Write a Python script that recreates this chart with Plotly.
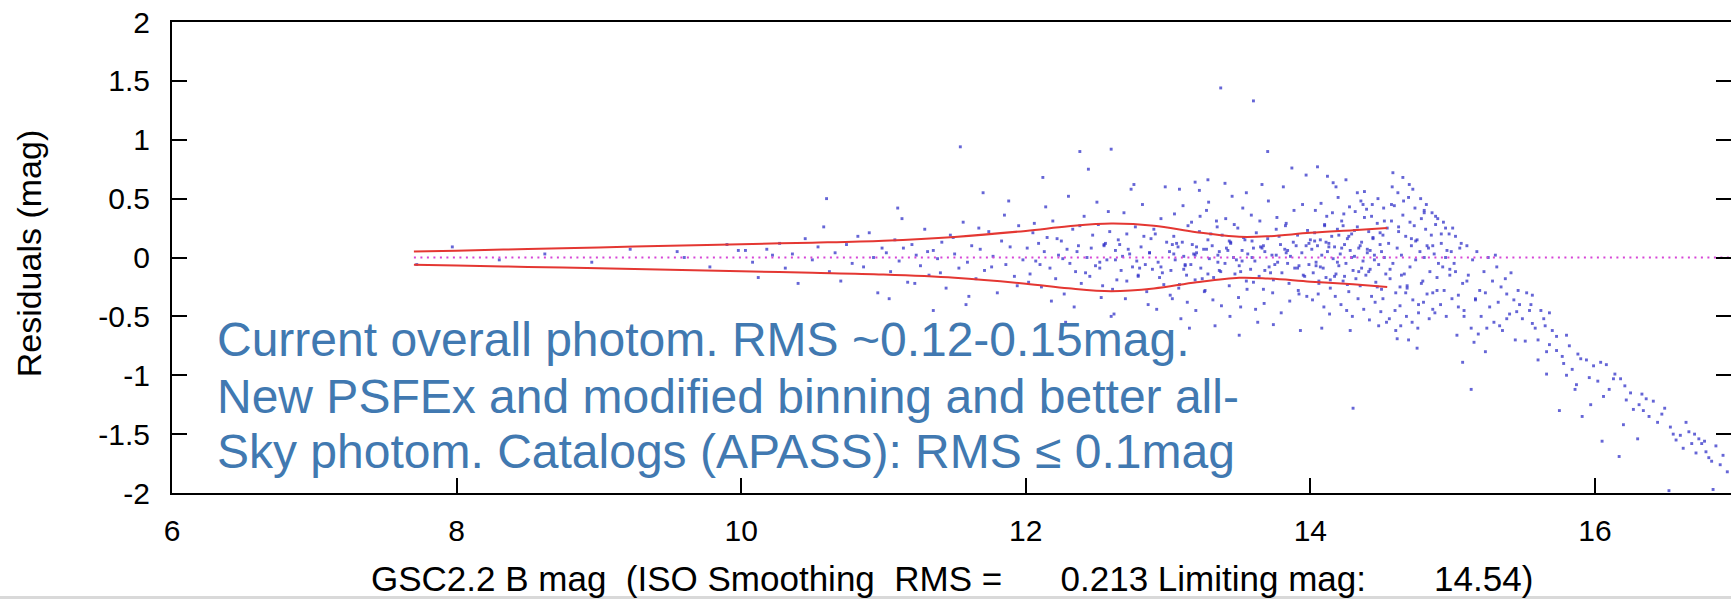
import plotly.graph_objects as go

# ---- star residuals: GSC2.2 B magnitude vs. photometric residual (mag) ----
mag_a = [7.72, 7.97, 8.3, 8.62, 8.95, 9.22, 9.55, 9.6, 9.78, 9.9, 9.98]
res_a = [-0.06, 0.09, -0.02, 0.03, -0.04, 0.07, 0.05, 0.0, -0.08, 0.11, 0.06]

mag_b = [10.03, 10.08, 10.12, 10.18, 10.22, 10.27, 10.31, 10.36, 10.4, 10.45, 10.5, 10.54, 10.58,
         10.62, 10.66, 10.7, 10.74, 10.78, 10.82, 10.86, 10.9, 10.93, 10.96, 10.99, 10.6]
res_b = [0.06, -0.04, -0.17, 0.07, 0.02, 0.12, -0.09, 0.03, -0.22, 0.16, -0.02, 0.09, 0.26,
         -0.12, 0.04, -0.2, 0.11, -0.05, 0.18, -0.08, 0.21, 0.0, -0.3, 0.08, 0.5]

mag_c = [11.02, 11.05, 11.08, 11.11, 11.14, 11.17, 11.2, 11.23, 11.26, 11.29, 11.32, 11.35, 11.38,
         11.41, 11.44, 11.47, 11.5, 11.53, 11.56, 11.59, 11.62, 11.65, 11.68, 11.71, 11.74, 11.77,
         11.8, 11.83, 11.86, 11.89, 11.92, 11.95, 11.98,
         11.04, 11.13, 11.22, 11.31, 11.4, 11.49, 11.58, 11.67, 11.76, 11.85, 11.94,
         11.54, 11.1, 11.7, 11.35, 11.88, 11.6]
res_c = [0.04, -0.12, 0.15, -0.03, 0.08, -0.21, 0.11, 0.02, -0.07, 0.24, -0.15, 0.06, -0.01,
         0.13, -0.26, 0.19, 0.03, -0.09, 0.3, -0.04, 0.1, -0.18, 0.07, -0.11, 0.22, 0.01,
         -0.3, 0.14, -0.06, 0.09, -0.16, 0.27, -0.02,
         -0.35, 0.33, -0.22, 0.05, -0.13, 0.17, -0.4, 0.25, -0.08, 0.36, -0.24,
         0.94, 0.42, 0.55, -0.45, 0.48, -0.33]

mag_d = [12.01, 12.03, 12.05, 12.07, 12.09, 12.11, 12.13, 12.15, 12.17, 12.19, 12.21, 12.23, 12.25,
         12.27, 12.29, 12.31, 12.33, 12.35, 12.37, 12.39, 12.41, 12.43, 12.45, 12.47, 12.49, 12.51,
         12.53, 12.55, 12.57, 12.59, 12.61, 12.63, 12.65, 12.67, 12.69, 12.71, 12.73, 12.75, 12.77,
         12.79, 12.81, 12.83, 12.85, 12.87, 12.89, 12.91, 12.93, 12.95, 12.97, 12.99,
         12.02, 12.06, 12.1, 12.14, 12.18, 12.22, 12.26, 12.3, 12.34, 12.38, 12.42, 12.46, 12.5,
         12.54, 12.58, 12.62, 12.66, 12.7, 12.74, 12.78, 12.82, 12.86, 12.9, 12.94, 12.98,
         12.12, 12.28, 12.44, 12.6, 12.76, 12.92, 12.36, 12.52, 12.68, 12.84, 12.38, 12.6]
res_d = [0.08, -0.14, 0.21, -0.03, 0.12, -0.25, 0.05, 0.17, -0.09, 0.31, -0.18, 0.02, 0.14,
         -0.31, 0.07, -0.05, 0.24, -0.12, 0.1, -0.22, 0.35, 0.0, -0.16, 0.19, -0.07, 0.28,
         -0.34, 0.11, -0.02, 0.22, -0.27, 0.06, 0.15, -0.11, 0.38, -0.2, 0.03, -0.08, 0.26,
         -0.15, 0.09, 0.18, -0.29, 0.04, -0.1, 0.2, -0.04, 0.33, -0.23, 0.13,
         -0.21, 0.29, -0.06, 0.43, -0.37, 0.16, -0.01, 0.52, -0.42, 0.27, -0.13, 0.08, 0.47,
         -0.24, 0.39, -0.48, 0.11, -0.35, 0.58, -0.03, 0.45, -0.4, 0.24, -0.17, 0.6,
         0.68, -0.55, 0.75, -0.5, 0.62, -0.44, 0.05, -0.09, 0.01, -0.06, 0.9, 0.92]

mag_e = [13.01, 13.02, 13.04, 13.05, 13.07, 13.08, 13.1, 13.11, 13.13, 13.14, 13.16, 13.17, 13.19,
         13.2, 13.22, 13.23, 13.25, 13.26, 13.28, 13.29, 13.31, 13.32, 13.34, 13.35, 13.37, 13.38,
         13.4, 13.41, 13.43, 13.44, 13.46, 13.47, 13.49, 13.5, 13.52, 13.53, 13.55, 13.56, 13.58,
         13.59, 13.61, 13.62, 13.64, 13.65, 13.67, 13.68, 13.7, 13.71, 13.73, 13.74, 13.76, 13.77,
         13.79, 13.8, 13.82, 13.83, 13.85, 13.86, 13.88, 13.89, 13.91, 13.92, 13.94, 13.95, 13.97,
         13.98, 13.99, 13.03, 13.27, 13.51,
         13.015, 13.045, 13.075, 13.105, 13.135, 13.165, 13.195, 13.225, 13.255, 13.285, 13.315,
         13.345, 13.375, 13.405, 13.435, 13.465, 13.495, 13.525, 13.555, 13.585, 13.615, 13.645,
         13.675, 13.705, 13.735, 13.765, 13.795, 13.825, 13.855, 13.885, 13.915, 13.945, 13.975,
         13.06, 13.12, 13.18, 13.24, 13.3, 13.36, 13.42, 13.48, 13.54, 13.6, 13.66, 13.72, 13.78,
         13.84, 13.9, 13.96,
         13.37, 13.6, 13.19, 13.4, 13.7, 13.87, 13.08, 13.55, 13.15, 13.33, 13.45, 13.63, 13.81,
         13.93, 13.28, 13.5, 13.74, 13.97, 13.22, 13.66, 13.09]
res_e = [0.05, -0.11, 0.18, -0.02, 0.09, -0.23, 0.13, 0.01, -0.15, 0.27, -0.06, 0.11, -0.19,
         0.04, 0.22, -0.09, 0.07, -0.28, 0.15, -0.01, 0.1, -0.17, 0.31, 0.02, -0.12, 0.19,
         -0.05, 0.08, -0.24, 0.12, 0.0, -0.14, 0.25, -0.07, 0.06, 0.17, -0.2, 0.03, -0.1,
         0.14, -0.03, 0.21, -0.16, 0.09, -0.27, 0.05, 0.16, -0.08, 0.02, -0.19, 0.24, -0.04,
         0.11, -0.13, 0.07, 0.29, -0.22, 0.01, 0.13, -0.09, 0.19, -0.31, 0.04, -0.15, 0.1,
         0.23, -0.06, -0.35, 0.4, -0.42,
         -0.32, 0.37, -0.26, 0.44, -0.38, 0.3, -0.45, 0.35, -0.29, 0.47, -0.36,
         0.26, -0.41, 0.33, -0.5, 0.28, -0.34, 0.42, -0.27, 0.36, -0.44, 0.31,
         -0.39, 0.48, -0.3, 0.34, -0.47, 0.27, -0.37, 0.4, -0.28, 0.45, -0.33,
         0.12, -0.07, 0.03, -0.18, 0.2, -0.11, 0.06, -0.02, 0.15, -0.21, 0.08, -0.13, 0.18,
         -0.05, 0.1, -0.16,
         1.44, 1.33, 0.64, 0.63, 0.9, 0.76, 0.58, 0.55, -0.6, -0.58, 0.52, -0.55, 0.6,
         -0.62, 0.66, -0.66, -0.57, 0.7, 0.57, 0.62, -0.52]

mag_f = [14.01, 14.02, 14.03, 14.04, 14.05, 14.06, 14.07, 14.08, 14.09, 14.1, 14.11, 14.12, 14.13,
         14.14, 14.15, 14.16, 14.17, 14.18, 14.19, 14.2, 14.21, 14.22, 14.23, 14.24, 14.25, 14.26,
         14.27, 14.28, 14.29, 14.3, 14.31, 14.32, 14.33, 14.34, 14.35, 14.36, 14.37, 14.38, 14.39,
         14.4, 14.41, 14.42, 14.43, 14.44, 14.45, 14.46, 14.47, 14.48, 14.49, 14.5, 14.51, 14.52,
         14.53, 14.54, 14.3,
         14.015, 14.035, 14.055, 14.075, 14.095, 14.115, 14.135, 14.155, 14.175, 14.195, 14.215,
         14.235, 14.255, 14.275, 14.295, 14.315, 14.335, 14.355, 14.375, 14.395, 14.415, 14.435,
         14.455, 14.475, 14.495, 14.515, 14.535,
         14.05, 14.12, 14.16, 14.25, 14.33, 14.37, 14.43, 14.52,
         14.08, 14.18, 14.28, 14.38, 14.48,
         14.03, 14.14, 14.22, 14.31, 14.41, 14.5,
         14.07, 14.2, 14.26, 14.35, 14.45, 14.1, 14.24, 14.4, 14.47]
res_f = [0.07, -0.13, 0.21, -0.04, 0.1, -0.22, 0.15, 0.02, -0.09, 0.28, -0.17, 0.05, 0.12,
         -0.26, 0.18, -0.01, 0.09, -0.14, 0.24, -0.07, 0.03, 0.31, -0.2, 0.11, -0.05, 0.16,
         -0.29, 0.06, 0.2, -0.11, 0.01, -0.18, 0.26, 0.08, -0.24, 0.13, -0.03, 0.34, -0.15,
         0.04, 0.22, -0.1, -0.33, 0.17, 0.02, -0.21, 0.29, -0.06, 0.11, -0.27, 0.19, 0.0,
         -0.14, 0.25, -1.28,
         -0.36, 0.4, -0.31, 0.46, -0.42, 0.35, -0.48, 0.38, -0.33, 0.51, -0.4,
         0.37, -0.45, 0.43, -0.5, 0.39, -0.35, 0.48, -0.44, 0.41, -0.53, 0.45,
         -0.38, 0.5, -0.46, 0.42, -0.55,
         0.77, 0.69, 0.635, 0.66, 0.55, 0.45, 0.35, 0.31,
         -0.6, 0.6, -0.62, 0.56, -0.58,
         0.14, -0.19, 0.08, 0.23, -0.12, 0.05,
         -0.08, 0.19, -0.23, 0.1, -0.02, 0.27, -0.16, 0.07, -0.25]

mag_g = [14.55, 14.56, 14.57, 14.58, 14.59, 14.6, 14.61, 14.62, 14.63, 14.64, 14.65, 14.66, 14.67,
         14.68, 14.69, 14.7, 14.71, 14.72, 14.73, 14.74, 14.75, 14.76, 14.77, 14.78, 14.79, 14.8,
         14.81, 14.82, 14.83, 14.84, 14.85, 14.86, 14.87, 14.88, 14.89, 14.9, 14.92, 14.94, 14.96,
         14.98,
         14.555, 14.575, 14.595, 14.615, 14.635, 14.655, 14.675, 14.695, 14.715, 14.735, 14.755,
         14.775, 14.795, 14.815, 14.835, 14.855, 14.875, 14.895, 14.915, 14.935, 14.955, 14.975,
         14.995,
         14.6, 14.61, 14.69, 14.75, 14.58, 14.65, 14.72, 14.8, 14.88, 14.95, 14.63, 14.71, 14.78,
         14.86, 14.93, 14.99, 14.67]
res_g = [0.12, -0.18, 0.31, -0.05, 0.44, -0.3, 0.08, 0.22, -0.41, 0.02, 0.36, -0.14, 0.18,
         -0.26, 0.51, -0.08, 0.1, -0.36, 0.27, -0.02, 0.15, -0.47, 0.05, 0.33, -0.2, 0.0,
         0.24, -0.31, 0.08, -0.12, 0.19, -0.44, 0.03, 0.28, -0.17, -0.05, 0.12, -0.28, 0.06,
         -0.15,
         -0.52, 0.6, -0.45, 0.55, -0.58, 0.48, -0.5, 0.62, -0.55, 0.42, -0.6,
         0.5, -0.38, 0.45, -0.52, 0.38, -0.47, 0.33, -0.4, 0.3, -0.5, 0.2,
         -0.35,
         -0.62, -0.69, -0.7, -0.77, 0.72, 0.68, 0.58, 0.4, 0.35, 0.25, -0.25, 0.16, -0.22,
         0.1, -0.08, 0.05, -0.3]

mag_h = [15.01, 15.02, 15.04, 15.05, 15.07, 15.08, 15.1, 15.11, 15.13, 15.14, 15.16, 15.17, 15.19,
         15.2, 15.22, 15.23, 15.25, 15.26, 15.28, 15.29, 15.31, 15.32, 15.34, 15.35, 15.37, 15.38,
         15.4, 15.41, 15.43, 15.44, 15.46, 15.47, 15.49,
         15.07, 15.13, 15.0, 15.03, 15.06, 15.15, 15.23, 15.3, 15.38, 15.45, 15.18, 15.33]
res_h = [-0.05, 0.18, -0.32, 0.08, -0.22, -0.45, 0.1, -0.15, -0.6, -0.02, -0.35, 0.05, -0.28,
         -0.5, -0.12, -0.3, 0.0, -0.42, -0.2, -0.55, -0.08, -0.38, -0.25, -0.62, -0.18, -0.31,
         -0.48, -0.13, -0.36, -0.7, -0.28, -0.4, -0.52,
         -0.89, -1.12, 0.25, -0.66, 0.12, -0.72, -0.8, 0.02, -0.52, -0.46, -0.65, -0.58]

mag_i = [15.51, 15.52, 15.54, 15.56, 15.56, 15.58, 15.6, 15.6, 15.62, 15.64, 15.66, 15.66, 15.68,
         15.68, 15.7, 15.73, 15.73, 15.75, 15.78, 15.8, 15.8, 15.82, 15.84, 15.87, 15.88, 15.9,
         15.91, 15.94, 15.96, 15.97, 15.99, 15.55, 15.65, 15.77, 15.86]
res_i = [-0.71, -0.3, -0.45, -0.32, -0.56, -0.6, -0.87, -0.7, -0.45, -0.52, -0.99, -0.8, -0.47,
         -0.74, -0.62, -0.67, -0.79, -1.3, -0.9, -1.0, -0.66, -0.75, -0.95, -1.08, -0.82, -0.86,
         -1.35, -0.87, -1.02, -1.25, -0.92, -0.4, -0.58, -0.84, -1.12]

mag_j = [16.02, 16.04, 16.05, 16.08, 16.1, 16.13, 16.14, 16.17, 16.18, 16.21, 16.22, 16.25, 16.27,
         16.3, 16.33, 16.34, 16.36, 16.38, 16.41, 16.44, 16.47, 16.49, 16.06, 16.2, 16.31]
res_j = [-1.05, -0.89, -1.56, -0.91, -1.12, -1.03, -0.99, -1.69, -1.03, -1.09, -1.21, -1.15, -1.29,
         -1.54, -1.16, -1.3, -1.2, -1.35, -1.22, -1.4, -1.33, -1.28, -1.18, -1.42, -1.25]

mag_k = [16.52, 16.53, 16.55, 16.57, 16.6, 16.62, 16.66, 16.68, 16.7, 16.71, 16.73, 16.75, 16.77,
         16.8, 16.82, 16.83, 16.85, 16.88, 16.9, 16.93, 16.64, 16.78]
res_k = [-1.98, -1.44, -1.5, -1.55, -1.51, -1.62, -1.48, -1.58, -1.5, -1.66, -1.54, -1.58, -1.56,
         -1.7, -1.73, -1.97, -1.6, -1.76, -1.68, -1.82, -1.4, -1.65]

# additional stars in the crowded 12.5-15.2 mag range
mag_m = [12.52, 12.56, 12.64, 12.72, 12.8, 12.88, 12.96,
         13.04, 13.12, 13.2, 13.28, 13.36, 13.44, 13.52, 13.6, 13.68, 13.76, 13.84, 13.92,
         14.0, 14.06, 14.13, 14.19, 14.27, 14.34, 14.42, 14.49,
         14.56, 14.62, 14.68, 14.74, 14.8, 14.86, 14.92, 14.98,
         15.04, 15.1,
         12.55, 12.63, 12.71, 12.79, 12.87, 12.95,
         13.03, 13.11, 13.19, 13.27, 13.35, 13.43, 13.51, 13.59, 13.67, 13.75, 13.83, 13.91, 13.99,
         14.04, 14.11, 14.17, 14.23, 14.29, 14.36, 14.44, 14.51,
         14.57, 14.64, 14.7, 14.76, 14.82, 14.89, 14.95,
         15.02, 15.08, 15.16, 15.24]
res_m = [-0.04, 0.12, -0.19, 0.07, -0.09, 0.16, -0.13,
         0.03, -0.06, 0.09, -0.14, 0.05, 0.13, -0.03, 0.08, -0.11, 0.02, 0.06, -0.07,
         0.15, -0.2, 0.09, -0.04, 0.18, -0.12, 0.06, 0.21,
         -0.1, 0.26, -0.24, 0.14, 0.38, -0.3, 0.2, -0.1,
         -0.42, -0.2,
         0.1, -0.02, 0.2, -0.16, 0.04, -0.08,
         0.11, -0.1, 0.02, 0.07, -0.04, 0.14, -0.12, 0.0, 0.1, -0.06, 0.04, -0.09, 0.12,
         -0.07, 0.13, -0.16, 0.27, 0.0, -0.09, 0.16, -0.35,
         0.45, -0.15, 0.3, -0.4, 0.1, -0.28, 0.0,
         -0.12, -0.5, -0.36, -0.6]

# ---- ISO smoothing envelope (RMS band) up to the limiting magnitude 14.54 ----
env_mag = [7.7, 8.0, 8.5, 9.0, 9.5, 10.0, 10.5, 11.0, 11.5, 12.0, 12.3, 12.6, 12.9, 13.2, 13.5,
           13.7, 14.0, 14.3, 14.54]
env_upper = [0.05, 0.058, 0.072, 0.085, 0.1, 0.113, 0.126, 0.143, 0.175, 0.226, 0.265, 0.288,
             0.27, 0.215, 0.176, 0.18, 0.21, 0.232, 0.25]
env_lower = [-0.062, -0.068, -0.08, -0.092, -0.105, -0.117, -0.13, -0.145, -0.172, -0.222,
             -0.262, -0.286, -0.263, -0.21, -0.172, -0.178, -0.205, -0.228, -0.25]

zero_mag = [7.7, 17.0]
zero_res = [0.0, 0.0]

x_tick_vals = [6, 8, 10, 12, 14, 16]
x_tick_text = ["6", "8", "10", "12", "14", "16"]
y_tick_vals = [2, 1.5, 1, 0.5, 0, -0.5, -1, -1.5, -2]
y_tick_text = ["2", "1.5", "1", "0.5", "0", "-0.5", "-1", "-1.5", "-2"]

note_lines = [
    "Current overall photom. RMS ~0.12-0.15mag.",
    "New PSFEx and modified binning and better all-",
    "Sky photom. Catalogs (APASS): RMS \u2264 0.1mag",
]
note_y = [-0.696, -1.18, -1.648]

x_title = ("GSC2.2 B mag\u00a0\u00a0(ISO Smoothing\u00a0\u00a0RMS =\u00a0\u00a0\u00a0\u00a0\u00a0\u00a0"
           "0.213 Limiting mag:\u00a0\u00a0\u00a0\u00a0\u00a0\u00a0\u00a014.54)")
y_title = "Residuals (mag)"


def pairs(xs, ys):
    n = min(len(xs), len(ys))
    return list(xs[:n]), list(ys[:n])


all_mag, all_res = [], []
for xs, ys in [(mag_a, res_a), (mag_b, res_b), (mag_c, res_c), (mag_d, res_d), (mag_e, res_e),
               (mag_f, res_f), (mag_g, res_g), (mag_h, res_h), (mag_i, res_i), (mag_j, res_j),
               (mag_k, res_k), (mag_m, res_m)]:
    px, py = pairs(xs, ys)
    all_mag += px
    all_res += py

FONT = "Liberation Sans, Arial, Helvetica, sans-serif"

fig = go.Figure()

fig.add_trace(go.Scatter(
    x=all_mag, y=all_res, mode="markers",
    marker=dict(symbol="square", size=2.9, color="rgba(50,50,200,0.75)", line=dict(width=0)),
    hoverinfo="skip", showlegend=False,
))

fig.add_trace(go.Scatter(
    x=zero_mag, y=zero_res, mode="lines", yaxis="y2",
    line=dict(color="rgb(215,70,215)", width=2, dash="2px,4.5px"),
    hoverinfo="skip", showlegend=False,
))

for env in (env_upper, env_lower):
    fig.add_trace(go.Scatter(
        x=env_mag, y=env, mode="lines", line_shape="spline",
        line=dict(color="rgb(228,55,50)", width=2),
        hoverinfo="skip", showlegend=False,
    ))

for text, yv in zip(note_lines, note_y):
    fig.add_annotation(
        x=6.30, y=yv, xref="x", yref="y", text=text, showarrow=False,
        xanchor="left", yanchor="middle",
        font=dict(family=FONT, size=48, color="#4179b1"),
    )

fig.add_annotation(
    x=0.5003, y=-0.1815, xref="paper", yref="paper", text=x_title, showarrow=False,
    xanchor="center", yanchor="middle", font=dict(family=FONT, size=35, color="black"),
)
fig.add_annotation(
    x=-0.0915, y=0.5096, xref="paper", yref="paper", text=y_title, showarrow=False,
    textangle=-90, xanchor="center", yanchor="middle",
    font=dict(family=FONT, size=34, color="black"),
)

# light strip along the bottom edge of the page
fig.add_shape(type="rect", xref="paper", yref="paper", x0=-0.2, x1=1.2, y0=-0.2187, y1=-0.26,
              line=dict(width=0), fillcolor="#d9d9d9", layer="above")

axis_common = dict(
    ticks="inside", ticklen=15, tickwidth=2, tickcolor="black",
    showgrid=False, zeroline=False,
    tickfont=dict(family=FONT, size=30, color="black"),
)

fig.update_layout(
    width=1731, height=599,
    margin=dict(l=172, r=0, t=22, b=106, autoexpand=False),
    paper_bgcolor="white", plot_bgcolor="white",
    showlegend=False,
    xaxis=dict(range=[6, 16.956], tickmode="array", tickvals=x_tick_vals, ticktext=x_tick_text,
               showline=True, linewidth=2, linecolor="black", mirror=True,
               ticklabelstandoff=10, **axis_common),
    yaxis=dict(range=[-2, 2], tickmode="array", tickvals=y_tick_vals, ticktext=y_tick_text,
               showline=True, linewidth=2, linecolor="black", mirror=False,
               ticklabelstandoff=14, **axis_common),
    yaxis2=dict(range=[-2, 2], overlaying="y", side="right", tickmode="array",
                tickvals=y_tick_vals, showticklabels=False, showline=False, **axis_common),
)

fig.write_html("out.html")
